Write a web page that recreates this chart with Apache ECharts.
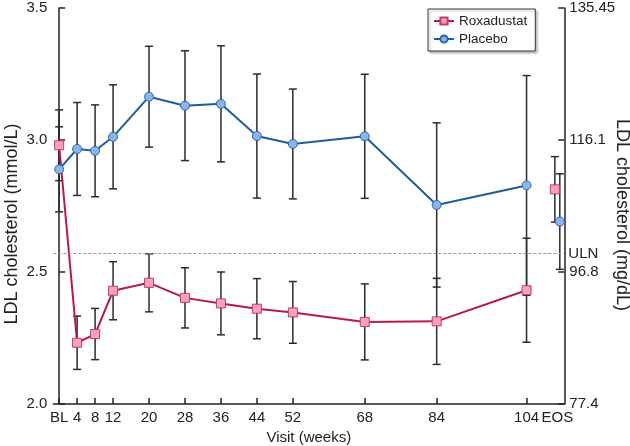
<!DOCTYPE html>
<html>
<head>
<meta charset="utf-8">
<script src="https://cdn.jsdelivr.net/npm/echarts@6/dist/echarts.min.js"></script>
<style>html,body{margin:0;padding:0;background:#fff;}#c{width:630px;height:446px;}</style>
</head>
<body>
<div id="c"></div>
<script>
// ---- data ----
const visits = ['BL','4','8','12','20','28','36','44','52','68','84','104','EOS'];
const weeks  = [0,4,8,12,20,28,36,44,52,68,84,104,110.85];
const roxMean = [2.980,2.232,2.265,2.429,2.459,2.402,2.381,2.361,2.347,2.311,2.313,2.431,2.813];
const roxErr  = [0.134,0.101,0.097,0.110,0.110,0.114,0.119,0.114,0.117,0.144,0.163,0.197,0.124];
const plaMean = [2.889,2.966,2.959,3.012,3.164,3.130,3.137,3.015,2.985,3.014,2.754,2.828,2.691];
const plaErr  = [0.161,0.176,0.174,0.197,0.191,0.208,0.220,0.235,0.208,0.235,0.311,0.416,0.181];
const leftTicks  = [2.0,2.5,3.0,3.5];
const rightTickLabels = ['77.4','96.8','116.1','135.45'];
const ulnValue = 2.573;
const seriesNames = ['Roxadustat','Placebo'];
const axisTitles = {x:'Visit (weeks)', yLeft:'LDL cholesterol (mmol/L)', yRight:'LDL cholesterol (mg/dL)'};

// ---- build ----
const eosOffset = 0.55;
function xAt(i, grp){ return i === visits.length-1 ? weeks[i] + (grp===0 ? -eosOffset : eosOffset) : weeks[i]; }
function lineData(mean, grp){
  const d = [];
  for (let i=0;i<mean.length;i++){
    if (i === mean.length-1) d.push([ (weeks[i-1]+weeks[i])/2, null ]);
    d.push([xAt(i,grp), mean[i]]);
  }
  return d;
}
function errData(mean, err, grp){ return mean.map((m,i)=>[xAt(i,grp), m, err[i]]); }
const errRender = function(params, api){
  const x = api.value(0), m = api.value(1), e = api.value(2);
  const t = api.coord([x, m+e]), b = api.coord([x, m-e]);
  const w = 4;
  const st = {stroke:'#2b2b2b', lineWidth:1.5};
  return {type:'group', children:[
    {type:'line', shape:{x1:t[0],y1:t[1],x2:b[0],y2:b[1]}, style:st},
    {type:'line', shape:{x1:t[0]-w,y1:t[1],x2:t[0]+w,y2:t[1]}, style:st},
    {type:'line', shape:{x1:b[0]-w,y1:b[1],x2:b[0]+w,y2:b[1]}, style:st}
  ]};
};
const labelWeeks = weeks.slice();
const tickWeeks = weeks.slice(0, weeks.length-1);
const font = 'Liberation Sans, Arial, sans-serif';
const axisCol = '#222';
const txtCol = '#222';
const tickFont = 15;

const chart = echarts.init(document.getElementById('c'), null, {renderer:'canvas'});
chart.setOption({
  animation:false,
  textStyle:{fontFamily:font},
  grid:{left:53.3, right:65.7, top:8, bottom:42, containLabel:false, outerBoundsMode:'none'},
  legend:{
    orient:'vertical', left:428, top:9,
    data:seriesNames,
    itemWidth:20, itemHeight:9, itemGap:4,
    padding:[5,8,5,5],
    borderColor:'#333', borderWidth:1, backgroundColor:'#fff',
    shadowColor:'rgba(0,0,0,0.25)', shadowOffsetX:2, shadowOffsetY:2, shadowBlur:2,
    textStyle:{fontSize:13.5, color:txtCol, fontFamily:font}
  },
  graphic:[
    {type:'text', x:12, y:224, rotation:Math.PI/2,
      style:{text:axisTitles.yLeft, fontSize:18, fontFamily:font, fill:txtCol, align:'center', verticalAlign:'middle'}},
    {type:'text', x:622, y:215, rotation:-Math.PI/2,
      style:{text:axisTitles.yRight, fontSize:18, fontFamily:font, fill:txtCol, align:'center', verticalAlign:'middle'}}
  ],
  xAxis:{
    type:'value', min:-1.3, max:112.4,
    name:axisTitles.x, nameLocation:'middle', nameGap:23,
    nameTextStyle:{fontSize:tickFont, color:txtCol, fontFamily:font},
    splitLine:{show:false},
    axisLine:{show:true, lineStyle:{color:axisCol, width:1.5}},
    axisTick:{show:true, inside:true, length:6, customValues:tickWeeks, lineStyle:{color:axisCol, width:1.5}},
    axisLabel:{customValues:labelWeeks, margin:6, fontSize:tickFont, color:txtCol, fontFamily:font,
      formatter:function(v){ const i = weeks.indexOf(v); return i>=0 ? visits[i] : ''; }}
  },
  yAxis:[{
    type:'value', min:2, max:3.5, interval:0.5, position:'left',
    splitLine:{show:false},
    axisLine:{show:true, lineStyle:{color:axisCol, width:1.5}},
    axisTick:{show:true, inside:true, length:6, lineStyle:{color:axisCol, width:1.5}},
    axisLabel:{margin:6, fontSize:tickFont, color:txtCol, fontFamily:font, formatter:function(v){return v.toFixed(1);}}
  },{
    type:'value', min:2, max:3.5, interval:0.5, position:'right',
    splitLine:{show:false},
    axisLine:{show:true, lineStyle:{color:axisCol, width:1.5}},
    axisTick:{show:true, inside:true, length:6, lineStyle:{color:axisCol, width:1.5}},
    axisLabel:{margin:5, fontSize:tickFont, color:txtCol, fontFamily:font,
      formatter:function(v){ const i = leftTicks.findIndex(t=>Math.abs(t-v)<1e-6); return i>=0 ? rightTickLabels[i] : ''; }}
  }],
  series:[
    {type:'custom', name:'errR', renderItem:errRender, data:errData(roxMean, roxErr, 0), encode:{x:0,y:1}, z:1, silent:true},
    {type:'custom', name:'errP', renderItem:errRender, data:errData(plaMean, plaErr, 1), encode:{x:0,y:1}, z:1, silent:true},
    {type:'line', name:seriesNames[0], data:lineData(roxMean,0), connectNulls:false,
      symbol:'rect', symbolSize:9, showAllSymbol:true,
      lineStyle:{color:'#b3185a', width:2},
      itemStyle:{color:'#f6a3b6', borderColor:'#c63a6a', borderWidth:1},
      z:3,
      markLine:{silent:true, symbol:'none',
        lineStyle:{color:'#9a9a9a', type:[3,2], width:1},
        label:{show:true, position:'end', formatter:'ULN', distance:4, fontSize:tickFont, color:txtCol, fontFamily:font},
        data:[{yAxis:ulnValue}]}
    },
    {type:'line', name:seriesNames[1], data:lineData(plaMean,1), connectNulls:false,
      symbol:'circle', symbolSize:9, showAllSymbol:true,
      lineStyle:{color:'#1c5f98', width:2},
      itemStyle:{color:'#8cb4e6', borderColor:'#2a66a6', borderWidth:1},
      z:3}
  ]
});
</script>
</body>
</html>
